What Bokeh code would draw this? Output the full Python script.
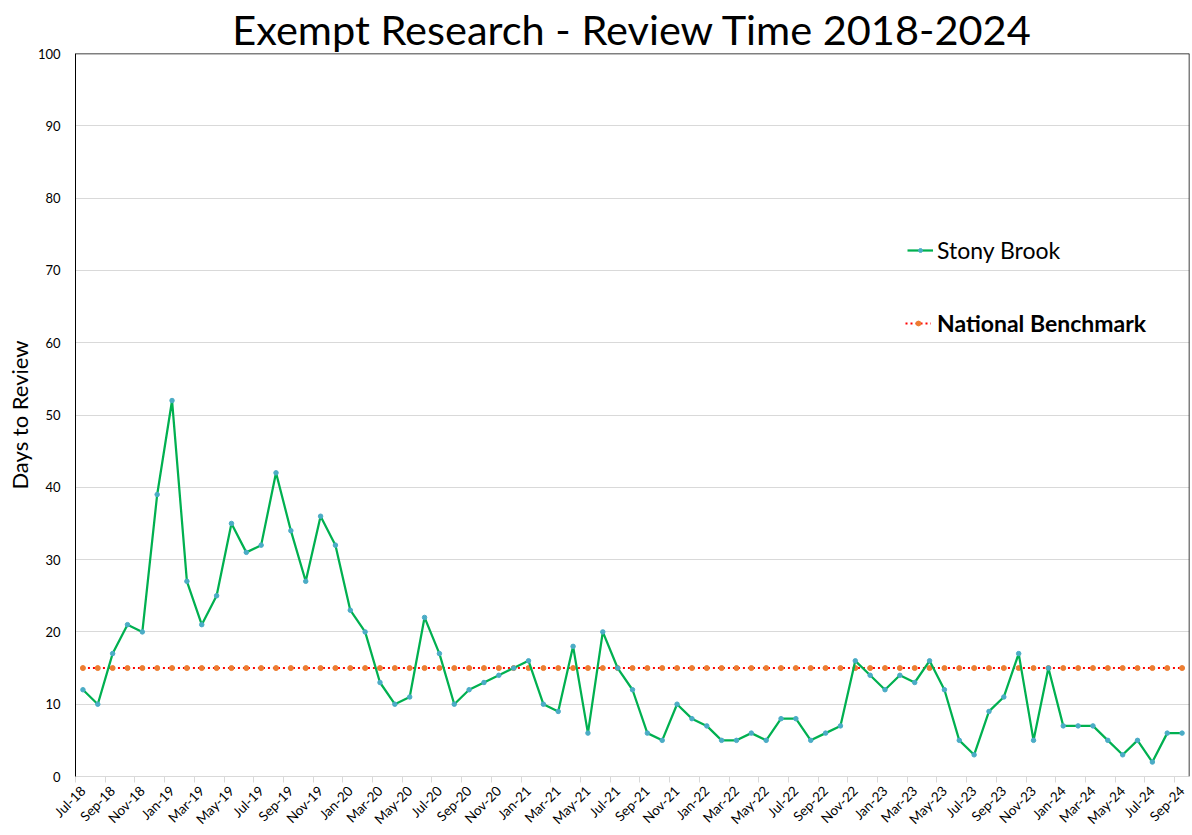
import math
from bokeh.plotting import figure
from bokeh.models import (ColumnDataSource, FixedTicker, Legend, LegendItem,
                          Range1d, Span)
from bokeh.embed import file_html
from bokeh.resources import INLINE

months = ["Jul-18", "Aug-18", "Sep-18", "Oct-18", "Nov-18", "Dec-18",
          "Jan-19", "Feb-19", "Mar-19", "Apr-19", "May-19", "Jun-19",
          "Jul-19", "Aug-19", "Sep-19", "Oct-19", "Nov-19", "Dec-19",
          "Jan-20", "Feb-20", "Mar-20", "Apr-20", "May-20", "Jun-20",
          "Jul-20", "Aug-20", "Sep-20", "Oct-20", "Nov-20", "Dec-20",
          "Jan-21", "Feb-21", "Mar-21", "Apr-21", "May-21", "Jun-21",
          "Jul-21", "Aug-21", "Sep-21", "Oct-21", "Nov-21", "Dec-21",
          "Jan-22", "Feb-22", "Mar-22", "Apr-22", "May-22", "Jun-22",
          "Jul-22", "Aug-22", "Sep-22", "Oct-22", "Nov-22", "Dec-22",
          "Jan-23", "Feb-23", "Mar-23", "Apr-23", "May-23", "Jun-23",
          "Jul-23", "Aug-23", "Sep-23", "Oct-23", "Nov-23", "Dec-23",
          "Jan-24", "Feb-24", "Mar-24", "Apr-24", "May-24", "Jun-24",
          "Jul-24", "Aug-24", "Sep-24"]

stony_brook = [12, 10, 17, 21, 20, 39,
               52, 27, 21, 25, 35, 31,
               32, 42, 34, 27, 36, 32,
               23, 20, 13, 10, 11, 22,
               17, 10, 12, 13, 14, 15,
               16, 10, 9, 18, 6, 20,
               15, 12, 6, 5, 10, 8,
               7, 5, 5, 6, 5, 8,
               8, 5, 6, 7, 16, 14,
               12, 14, 13, 16, 12, 5,
               3, 9, 11, 17, 5, 15,
               7, 7, 7, 5, 3, 5,
               2, 6, 6]

benchmark = [15] * len(months)

y_ticks = list(range(0, 101, 10))

idx = list(range(len(months)))
src = ColumnDataSource(dict(x=idx, sb=stony_brook, nb=benchmark))

FONT = "Lato"
X_MIN, X_MAX = -0.5, len(months) - 0.5
Y_MIN, Y_MAX = 0, 100

p = figure(width=1192, height=835, output_backend="svg", toolbar_location=None,
           x_range=Range1d(X_MIN, X_MAX), y_range=Range1d(Y_MIN, Y_MAX),
           min_border_left=75, min_border_right=3, min_border_top=53,
           min_border_bottom=58)
p.title.text = "Exempt Research - Review Time 2018-2024"
p.title.text_font = FONT
p.title.text_font_size = "41.5px"
p.title.text_font_style = "normal"
p.title.align = "center"
p.title.text_color = "#000000"
p.title.standoff = 0

p.background_fill_color = "white"
p.border_fill_color = "white"
p.outline_line_color = None

# grid
p.xgrid.grid_line_color = None
p.ygrid.grid_line_color = "#d9d9d9"
p.ygrid.grid_line_width = 1

# y axis
yax = p.yaxis[0]
yax.ticker = FixedTicker(ticks=y_ticks)
yax.axis_line_color = "black"
yax.major_tick_line_color = None
yax.minor_tick_line_color = None
yax.major_tick_out = 0
yax.major_label_text_font = FONT
yax.major_label_text_font_size = "13px"
yax.major_label_text_color = "#000000"
yax.major_label_standoff = 15
yax.axis_label = "Days to Review"
yax.axis_label_text_font = FONT
yax.axis_label_text_font_size = "22px"
yax.axis_label_text_font_style = "normal"
yax.axis_label_text_color = "#000000"
yax.axis_label_standoff = 2

# x axis
xax = p.xaxis[0]
label_pos = list(range(0, len(months), 2))
bounds = [i - 0.5 for i in range(0, len(months) + 1, 2)]
xax.ticker = FixedTicker(ticks=label_pos, minor_ticks=bounds)
xax.major_label_overrides = {i: months[i] for i in label_pos}
xax.major_label_orientation = math.pi / 4
xax.major_label_text_font = FONT
xax.major_label_text_font_size = "13.5px"
xax.major_label_text_color = "#000000"
xax.axis_line_color = "#d9d9d9"
xax.major_tick_line_color = None
xax.major_tick_out = 0
xax.major_tick_in = 0
xax.minor_tick_line_color = "#d9d9d9"
xax.minor_tick_out = 6
xax.minor_tick_in = 0
xax.major_label_standoff = 6

# frame border on top & right
p.add_layout(Span(location=Y_MAX, dimension="width", line_color="black", line_width=1.5))
p.add_layout(Span(location=X_MAX, dimension="height", line_color="black", line_width=1.5))

# series
nb_line = p.line("x", "nb", source=src, line_color="#ff0000", line_width=2,
                 line_dash="2 3")
nb_pts = p.scatter("x", "nb", source=src, marker="circle", size=5,
                   fill_color="#ed7d31", line_color="#ed7d31")
sb_line = p.line("x", "sb", source=src, line_color="#00b050", line_width=2.25)
sb_pts = p.scatter("x", "sb", source=src, marker="circle", size=4.5,
                   fill_color="#4bacc6", line_color="#4bacc6")

leg1 = Legend(items=[LegendItem(label="Stony Brook", renderers=[sb_line, sb_pts])],
              location=(832, 512), border_line_color=None,
              background_fill_alpha=0, padding=0, margin=0,
              glyph_width=26, glyph_height=10, label_standoff=4,
              label_text_font=FONT, label_text_font_size="23px",
              label_text_color="#000000")
leg2 = Legend(items=[LegendItem(label="National Benchmark", renderers=[nb_line, nb_pts])],
              location=(830, 439), border_line_color=None,
              background_fill_alpha=0, padding=0, margin=0,
              glyph_width=26, glyph_height=12, label_standoff=6,
              label_text_font=FONT, label_text_font_size="23px",
              label_text_font_style="bold", label_text_color="#000000")
p.add_layout(leg1, "center")
p.add_layout(leg2, "center")

open("out.html", "w").write(file_html(p, INLINE))
